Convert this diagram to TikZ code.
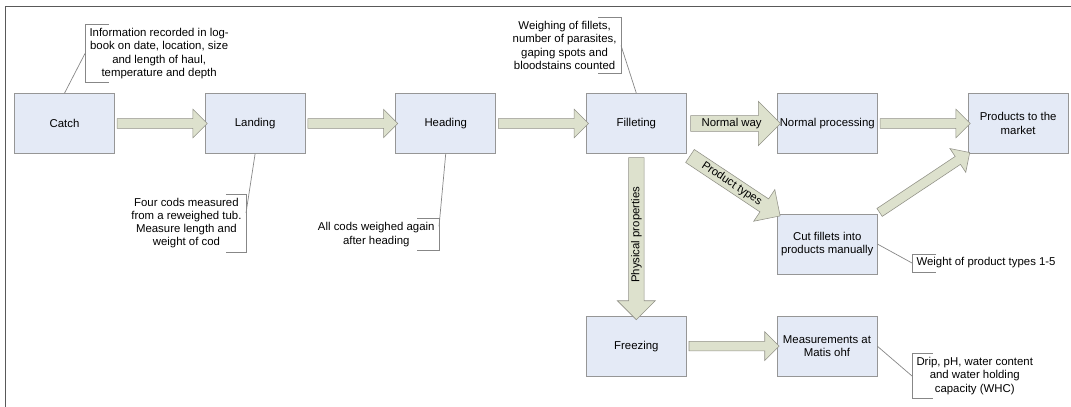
\documentclass[tikz,border=0pt]{standalone}
\usepackage{fontspec}
\setmainfont{Liberation Sans}
\usetikzlibrary{positioning,calc,shapes.arrows}
\definecolor{boxfill}{RGB}{228,234,246}
\definecolor{boxline}{RGB}{150,150,150}
\definecolor{arrowfill}{RGB}{221,225,205}
\definecolor{arrowline}{RGB}{145,145,135}
\definecolor{noteline}{RGB}{135,135,135}
\tikzset{
	flowchart/.style={x=0.025cm,y=-0.025cm,node distance=2.25cm,
		font=\fontsize{8.1}{9.4}\selectfont},
	stepbox/.style={rectangle,draw=boxline,fill=boxfill,minimum width=2.5cm,
		minimum height=1.5cm,align=center,inner xsep=2pt},
	flow/.style={single arrow,draw=arrowline,fill=arrowfill,
		single arrow tip angle=90,single arrow head indent=0pt,
		inner xsep=0pt,inner ysep=0.1125cm,single arrow head extend=0.2375cm},
	flowlabel/.style={flow,text height=6pt,text depth=1.7pt,inner ysep=1.5pt,
		single arrow head extend=0.36cm},
	note/.style={align=center,inner xsep=3pt,inner ysep=2.5pt},
	bracket/.style={draw=noteline,line width=0.5pt},
	frame/.style={draw=black!65,line width=1.4pt}
}
% block arrow from node to node
\newcommand{\flowarrow}[4][flow]{%
	\path let \p1=(#2), \p2=(#3), \n1={atan2(\y2-\y1,\x2-\x1)},
		\n2={veclen(\x2-\x1,\y2-\y1)} in
		node[minimum height=\n2,rotate=\n1,#1] at ($(\p1)!0.5!(\p2)$) {#4};}

\begin{document}
\begin{tikzpicture}[flowchart]
	\useasboundingbox (0,0) rectangle (1071,407);
	\draw[frame] (5.5,407) -- (5.5,6.5) -- (1071,6.5);

	\node[stepbox] (catch) at (64.5,123.5) {Catch};
	\node[stepbox] (land) [right=of catch] {Landing};
	\node[stepbox] (head) [right=of land] {Heading};
	\node[stepbox] (fill) [right=of head] {Filleting};
	\node[stepbox] (normal) [right=of fill] {Normal processing};
	\node[stepbox] (market) [right=of normal] {Products to the\\market};
	\node[stepbox] (cut) [below=1.5cm of normal] {Cut fillets into\\products manually};
	\node[stepbox] (freeze) [below=4.05cm of fill] {Freezing};
	\node[stepbox] (matis) [right=of freeze] {Measurements at\\Matis ohf};

	\flowarrow{catch.east}{land.west}{}
	\flowarrow{land.east}{head.west}{}
	\flowarrow{head.east}{fill.west}{}
	\flowarrow[flowlabel]{fill.east}{normal.west}{Normal way}
	\flowarrow{normal.east}{market.west}{}
	\flowarrow[flowlabel,single arrow head extend=0.28cm]{fill.south east}{cut.north west}{Product types}
	\flowarrow{cut.north east}{market.south west}{}
	\flowarrow[flowlabel,single arrow head extend=0.28cm,rotate=180,shape border rotate=180]{fill.south}{freeze.north}{Physical properties}
	\flowarrow{freeze.east}{matis.west}{}

	% notes
	\node[note,anchor=west] (catchnote) at (85,53.5) {Information recorded in log-\\book on date, location, size\\and length of haul,\\temperature and depth};
	\node[note,anchor=east] (landnote) at (246,223) {Four cods measured\\from a reweighed tub.\\Measure length and\\weight of cod};
	\node[note,anchor=east] (headnote) at (439,234.5) {All cods weighed again\\after heading};
	\node[note,anchor=east] (fillnote) at (621,45.5) {Weighing of fillets,\\number of parasites,\\gaping spots and\\bloodstains counted};
	\node[note,anchor=west] (cutnote) at (912,263) {Weight of product types 1-5};
	\node[note,anchor=west] (matisnote) at (912,376) {Drip, pH, water content\\and water holding\\capacity (WHC)};

	\draw[bracket] ([xshift=0.6cm]catchnote.north west) -- (catchnote.north west) -- (catchnote.south west) -- ([xshift=0.6cm]catchnote.south west);
	\draw[bracket] ([xshift=-0.5cm]landnote.north east) -- (landnote.north east) -- (landnote.south east) -- ([xshift=-0.5cm]landnote.south east);
	\draw[bracket] ([xshift=-0.55cm]headnote.north east) -- (headnote.north east) -- (headnote.south east) -- ([xshift=-0.55cm]headnote.south east);
	\draw[bracket] ([xshift=-0.57cm]fillnote.north east) -- (fillnote.north east) -- (fillnote.south east) -- ([xshift=-0.57cm]fillnote.south east);
	\draw[bracket] ([xshift=0.6cm]cutnote.north west) -- (cutnote.north west) -- (cutnote.south west) -- ([xshift=0.6cm]cutnote.south west);
	\draw[bracket] ([xshift=0.52cm]matisnote.north west) -- (matisnote.north west) -- (matisnote.south west) -- ([xshift=0.52cm]matisnote.south west);

	\draw[bracket] (catch.north) -- (catchnote.west);
	\draw[bracket] (land.south) -- ([yshift=0.25cm]landnote.east);
	\draw[bracket] (head.south) -- ([yshift=0.2cm]headnote.east);
	\draw[bracket] (fill.north) -- (fillnote.east);
	\draw[bracket] (cut.east) -- (cutnote.west);
	\draw[bracket] (matis.east) -- (matisnote.west);
\end{tikzpicture}
\end{document}
